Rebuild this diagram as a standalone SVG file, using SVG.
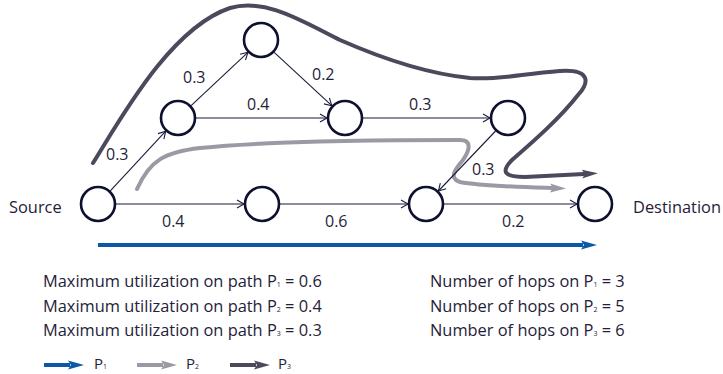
<svg xmlns="http://www.w3.org/2000/svg" width="723" height="374" viewBox="0 0 723 374">
  <style>
    .node { fill: #ffffff; stroke: #0e1030; stroke-width: 2.6; }
    .edge { fill: none; stroke: #1a1d3a; stroke-width: 1.1; marker-end: url(#chev); }
    .lbl { font-family: "Open Sans", "Noto Sans", sans-serif; font-size: 16px; fill: #1f2238; }
    .txt { font-family: "Open Sans", "Noto Sans", sans-serif; font-size: 16.4px; fill: #1f2238; }
    .leg { font-family: "Open Sans", "Noto Sans", sans-serif; font-size: 15px; fill: #1f2238; }
    .sub { font-size: 7px; }
    .p1 { fill: none; stroke: #0a58a6; stroke-width: 4; }
    .p2 { fill: none; stroke: #9b9aa4; stroke-width: 4; stroke-linecap: round; }
    .p3 { fill: none; stroke: #4a4a5c; stroke-width: 4; stroke-linecap: round; }
  </style>
  <defs>
    <marker id="chev" markerWidth="10" markerHeight="10" refX="8" refY="5" orient="auto" markerUnits="userSpaceOnUse">
      <path d="M1,1 L8,5 L1,9" fill="none" stroke="#1a1d3a" stroke-width="1.1"/>
    </marker>
    <marker id="head1" markerWidth="16" markerHeight="12" refX="2" refY="6" orient="auto" markerUnits="userSpaceOnUse">
      <path d="M0,1.5 L16,6 L0,10.5 L3,6 Z" fill="#0a58a6"/>
    </marker>
    <marker id="head2" markerWidth="16" markerHeight="12" refX="2" refY="6" orient="auto" markerUnits="userSpaceOnUse">
      <path d="M0,1.5 L16,6 L0,10.5 L3,6 Z" fill="#9b9aa4"/>
    </marker>
    <marker id="head3" markerWidth="16" markerHeight="12" refX="2" refY="6" orient="auto" markerUnits="userSpaceOnUse">
      <path d="M0,1.5 L16,6 L0,10.5 L3,6 Z" fill="#4a4a5c"/>
    </marker>
  </defs>

  <!-- path overlays -->
  <g id="paths">
    <path class="p3" d="M93,163 C120,120 170,28 230,8 C265,-2 300,20 340,40 C390,62 430,74 470,78 C500,80 520,74 560,71 C590,69 590,82 578,95 C560,118 535,140 512,160 C500,172 505,177 525,177 L584,174" marker-end="url(#head3)"/>
    <path class="p2" d="M137,189 C150,160 165,152 200,148 C260,142 350,140 460,140 C472,140 470,150 463,160 C456,168 448,178 460,182 C480,186 520,187 552,188" marker-end="url(#head2)"/>
    <line class="p1" x1="98" y1="245" x2="583" y2="245" marker-end="url(#head1)"/>
  </g>

  <!-- connectors -->
  <g id="connectors">
    <line class="edge" x1="110.3" y1="190.8" x2="165.7" y2="131.2"/>
    <line class="edge" x1="191.1" y1="105.7" x2="247.9" y2="52.3"/>
    <line class="edge" x1="274.2" y1="52.3" x2="331.8" y2="105.7"/>
    <line class="edge" x1="196" y1="118" x2="327" y2="118"/>
    <line class="edge" x1="363" y1="118" x2="490" y2="118"/>
    <line class="edge" x1="495.6" y1="131" x2="438.4" y2="191"/>
    <line class="edge" x1="116" y1="204" x2="244" y2="204"/>
    <line class="edge" x1="280" y1="204" x2="408" y2="204"/>
    <line class="edge" x1="444" y1="204" x2="577" y2="204"/>
    <text class="lbl" x="106" y="160">0.3</text>
    <text class="lbl" x="183" y="83">0.3</text>
    <text class="lbl" x="312" y="80">0.2</text>
    <text class="lbl" x="247" y="110">0.4</text>
    <text class="lbl" x="409" y="110">0.3</text>
    <text class="lbl" x="472" y="175">0.3</text>
    <text class="lbl" x="162" y="227">0.4</text>
    <text class="lbl" x="325" y="227">0.6</text>
    <text class="lbl" x="502" y="227">0.2</text>
  </g>

  <!-- nodes -->
  <g id="source"><circle class="node" cx="98" cy="204" r="17"/><text class="txt" x="9" y="213">Source</text></g>
  <g id="n-bottom-1"><circle class="node" cx="262" cy="204" r="17"/></g>
  <g id="n-bottom-2"><circle class="node" cx="426" cy="204" r="17"/></g>
  <g id="destination"><circle class="node" cx="595" cy="204" r="17"/><text class="txt" x="633" y="213">Destination</text></g>
  <g id="n-mid-1"><circle class="node" cx="178" cy="118" r="17"/></g>
  <g id="n-top"><circle class="node" cx="261" cy="40" r="17"/></g>
  <g id="n-mid-2"><circle class="node" cx="345" cy="118" r="17"/></g>
  <g id="n-mid-3"><circle class="node" cx="508" cy="118" r="17"/></g>

  <!-- summary text -->
  <g id="summary">
    <text class="txt" x="43" y="287">Maximum utilization on path P<tspan class="sub">1</tspan> = 0.6</text>
    <text class="txt" x="43" y="312">Maximum utilization on path P<tspan class="sub">2</tspan> = 0.4</text>
    <text class="txt" x="43" y="336">Maximum utilization on path P<tspan class="sub">3</tspan> = 0.3</text>
    <text class="txt" x="430" y="287">Number of hops on P<tspan class="sub">1</tspan> = 3</text>
    <text class="txt" x="430" y="312">Number of hops on P<tspan class="sub">2</tspan> = 5</text>
    <text class="txt" x="430" y="336">Number of hops on P<tspan class="sub">3</tspan> = 6</text>
  </g>

  <!-- legend -->
  <g id="legend">
    <line class="p1" x1="44" y1="365" x2="70" y2="365" marker-end="url(#head1)"/>
    <text class="leg" x="94" y="369">P<tspan class="sub">1</tspan></text>
    <line class="p2" x1="137" y1="365" x2="163" y2="365" style="stroke-linecap:butt" marker-end="url(#head2)"/>
    <text class="leg" x="186" y="369">P<tspan class="sub">2</tspan></text>
    <line class="p3" x1="230" y1="365" x2="256" y2="365" style="stroke-linecap:butt" marker-end="url(#head3)"/>
    <text class="leg" x="278" y="369">P<tspan class="sub">3</tspan></text>
  </g>
</svg>
